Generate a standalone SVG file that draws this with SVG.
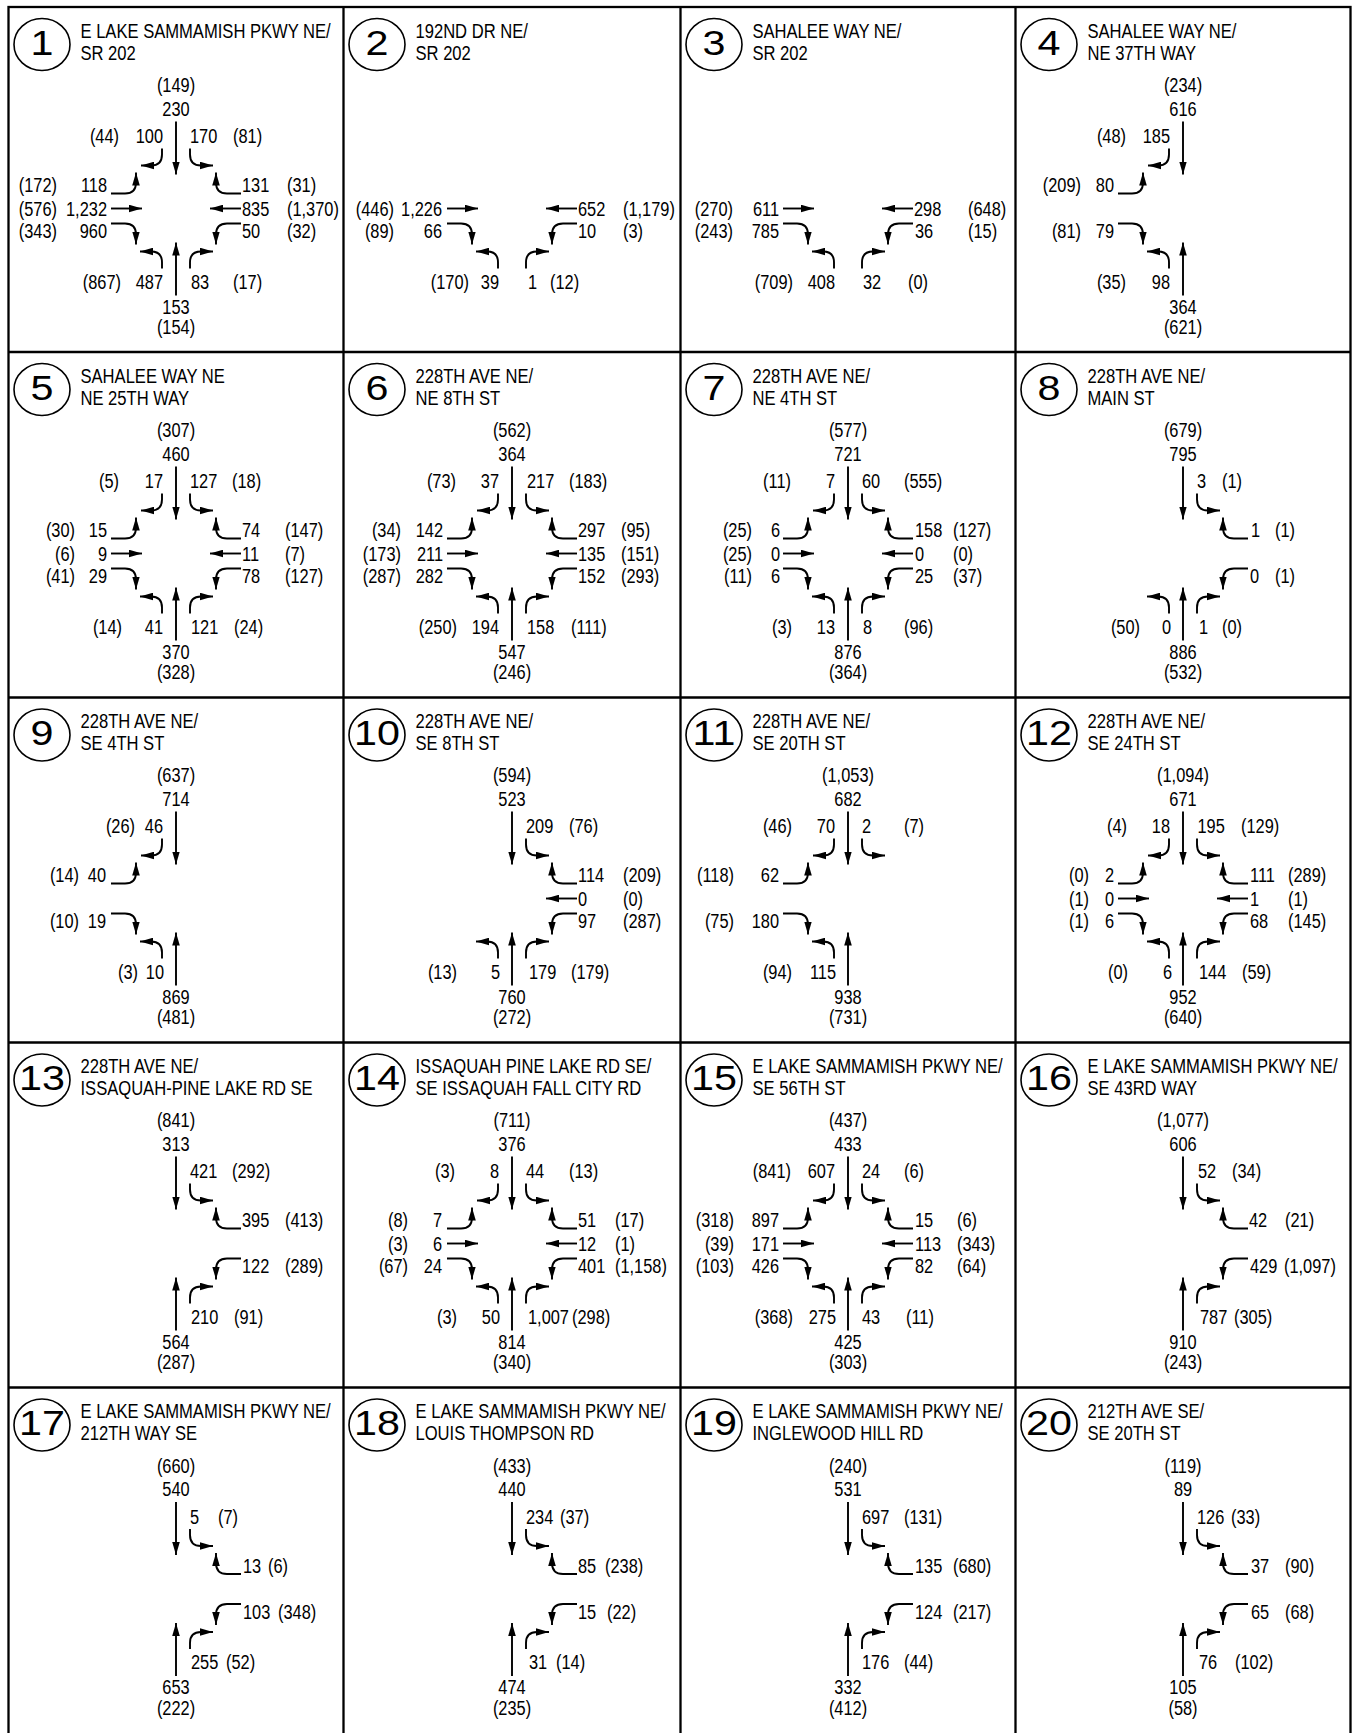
<svg xmlns="http://www.w3.org/2000/svg" width="1353" height="1733" viewBox="0 0 1353 1733">
<style>
text{font-family:"Liberation Sans",Arial,Helvetica,sans-serif;font-size:21px;fill:#000;transform-box:fill-box;transform:scaleX(.78);transform-origin:left center}
.e{text-anchor:end;transform-origin:right center}
.m{text-anchor:middle;transform-origin:center}
.ti{transform:scaleX(.79)}
.cn{font-size:35px;text-anchor:middle;transform-origin:center;transform:scaleX(1.18)}
.grid{fill:none;stroke:#000;stroke-width:2.3}
.c{fill:none;stroke:#000;stroke-width:1.6}
#connectors{fill:none;stroke:#000;stroke-width:1.9;marker-end:url(#ah)}
</style>
<defs>
<marker id="ah" viewBox="0 0 13 8" refX="13" refY="4" markerWidth="13" markerHeight="8" markerUnits="userSpaceOnUse" orient="auto"><path d="M0,0.2L13,4L0,7.8z" fill="#000" stroke="none"/></marker>
<path id="sT" d="M0,-87V-34"/>
<path id="nT" d="M0,87V34"/>
<path id="eT" d="M-65,0H-34"/>
<path id="wT" d="M65,0H34"/>
<path id="sL" d="M-14,-60V-54Q-14,-43 -25,-43H-35"/>
<path id="sR" d="M14,-60V-54Q14,-43 25,-43H37"/>
<path id="nL" d="M-14,60V54Q-14,43 -25,43H-36"/>
<path id="nR" d="M14,60V54Q14,43 25,43H37"/>
<path id="eL" d="M-65,-15H-51Q-40,-15 -40,-26V-36"/>
<path id="eR" d="M-65,15H-51Q-40,15 -40,26V36"/>
<path id="wR" d="M65,-15H51Q40,-15 40,-26V-36"/>
<path id="wL" d="M65,15H51Q40,15 40,26V36"/>
</defs>
<rect width="1353" height="1733" fill="#fff"/>
<g id="grid">
<rect class="grid" x="8.5" y="7" width="1342" height="1740"/>
<path class="grid" d="M343.5,7V1740M680.5,7V1740M1015.5,7V1740M8.5,352H1350.5M8.5,697.5H1350.5M8.5,1042.5H1350.5M8.5,1387.5H1350.5"/>
</g>
<g id="connectors">
<g id="a1" transform="translate(176,208.5)"><use href="#sT"/><use href="#sL"/><use href="#sR"/><use href="#eL"/><use href="#eT"/><use href="#eR"/><use href="#wR"/><use href="#wT"/><use href="#wL"/><use href="#nL"/><use href="#nT"/><use href="#nR"/></g>
<g id="a2" transform="translate(512,208.5)"><use href="#eT"/><use href="#eR"/><use href="#wT"/><use href="#wL"/><use href="#nL"/><use href="#nR"/></g>
<g id="a3" transform="translate(848,208.5)"><use href="#eT"/><use href="#eR"/><use href="#wT"/><use href="#wL"/><use href="#nL"/><use href="#nR"/></g>
<g id="a4" transform="translate(1183,208.5)"><use href="#sT"/><use href="#sL"/><use href="#eL"/><use href="#eR"/><use href="#nL"/><use href="#nT"/></g>
<g id="a5" transform="translate(176,553.5)"><use href="#sT"/><use href="#sL"/><use href="#sR"/><use href="#eL"/><use href="#eT"/><use href="#eR"/><use href="#wR"/><use href="#wT"/><use href="#wL"/><use href="#nL"/><use href="#nT"/><use href="#nR"/></g>
<g id="a6" transform="translate(512,553.5)"><use href="#sT"/><use href="#sL"/><use href="#sR"/><use href="#eL"/><use href="#eT"/><use href="#eR"/><use href="#wR"/><use href="#wT"/><use href="#wL"/><use href="#nL"/><use href="#nT"/><use href="#nR"/></g>
<g id="a7" transform="translate(848,553.5)"><use href="#sT"/><use href="#sL"/><use href="#sR"/><use href="#eL"/><use href="#eT"/><use href="#eR"/><use href="#wR"/><use href="#wT"/><use href="#wL"/><use href="#nL"/><use href="#nT"/><use href="#nR"/></g>
<g id="a8" transform="translate(1183,553.5)"><use href="#sT"/><use href="#sR"/><use href="#wR"/><use href="#wL"/><use href="#nL"/><use href="#nT"/><use href="#nR"/></g>
<g id="a9" transform="translate(176,898.5)"><use href="#sT"/><use href="#sL"/><use href="#eL"/><use href="#eR"/><use href="#nL"/><use href="#nT"/></g>
<g id="a10" transform="translate(512,898.5)"><use href="#sT"/><use href="#sR"/><use href="#wR"/><use href="#wT"/><use href="#wL"/><use href="#nL"/><use href="#nT"/><use href="#nR"/></g>
<g id="a11" transform="translate(848,898.5)"><use href="#sT"/><use href="#sL"/><use href="#sR"/><use href="#eL"/><use href="#eR"/><use href="#nL"/><use href="#nT"/></g>
<g id="a12" transform="translate(1183,898.5)"><use href="#sT"/><use href="#sL"/><use href="#sR"/><use href="#eL"/><use href="#eT"/><use href="#eR"/><use href="#wR"/><use href="#wT"/><use href="#wL"/><use href="#nL"/><use href="#nT"/><use href="#nR"/></g>
<g id="a13" transform="translate(176,1243.5)"><use href="#sT"/><use href="#sR"/><use href="#wR"/><use href="#wL"/><use href="#nT"/><use href="#nR"/></g>
<g id="a14" transform="translate(512,1243.5)"><use href="#sT"/><use href="#sL"/><use href="#sR"/><use href="#eL"/><use href="#eT"/><use href="#eR"/><use href="#wR"/><use href="#wT"/><use href="#wL"/><use href="#nL"/><use href="#nT"/><use href="#nR"/></g>
<g id="a15" transform="translate(848,1243.5)"><use href="#sT"/><use href="#sL"/><use href="#sR"/><use href="#eL"/><use href="#eT"/><use href="#eR"/><use href="#wR"/><use href="#wT"/><use href="#wL"/><use href="#nL"/><use href="#nT"/><use href="#nR"/></g>
<g id="a16" transform="translate(1183,1243.5)"><use href="#sT"/><use href="#sR"/><use href="#wR"/><use href="#wL"/><use href="#nT"/><use href="#nR"/></g>
<g id="a17" transform="translate(176,1589)"><use href="#sT"/><use href="#sR"/><use href="#wR"/><use href="#wL"/><use href="#nT"/><use href="#nR"/></g>
<g id="a18" transform="translate(512,1589)"><use href="#sT"/><use href="#sR"/><use href="#wR"/><use href="#wL"/><use href="#nT"/><use href="#nR"/></g>
<g id="a19" transform="translate(848,1589)"><use href="#sT"/><use href="#sR"/><use href="#wR"/><use href="#wL"/><use href="#nT"/><use href="#nR"/></g>
<g id="a20" transform="translate(1183,1589)"><use href="#sT"/><use href="#sR"/><use href="#wR"/><use href="#wL"/><use href="#nT"/><use href="#nR"/></g>
</g>

<g id="int1">
<ellipse class="c" cx="42" cy="44.5" rx="28" ry="26"/><text class="cn" x="42" y="55">1</text>
<text class="ti" x="80.5" y="38">E LAKE SAMMAMISH PKWY NE/</text><text class="ti" x="80.5" y="60">SR 202</text>
<g transform="translate(176,208.5)">
<text class="m" y="-116.5">(149)</text><text class="m" y="-93">230</text>
<text class="e" x="-57" y="-65.5">(44)</text><text class="e" x="-13" y="-65.5">100</text><text x="14" y="-65.5">170</text><text x="57" y="-65.5">(81)</text>
<text class="e" x="-119" y="-16.5">(172)</text><text class="e" x="-69" y="-16.5">118</text>
<text class="e" x="-119" y="7.5">(576)</text><text class="e" x="-69" y="7.5">1,232</text>
<text class="e" x="-119" y="30">(343)</text><text class="e" x="-69" y="30">960</text>
<text x="66" y="-16.5">131</text><text x="111" y="-16.5">(31)</text>
<text x="66" y="7.5">835</text><text x="111" y="7.5">(1,370)</text>
<text x="66" y="30">50</text><text x="111" y="30">(32)</text>
<text class="e" x="-55" y="80.5">(867)</text><text class="e" x="-13" y="80.5">487</text><text x="15" y="80.5">83</text><text x="57" y="80.5">(17)</text>
<text class="m" y="105.5">153</text><text class="m" y="126">(154)</text>
</g></g>

<g id="int2">
<ellipse class="c" cx="377" cy="44.5" rx="28" ry="26"/><text class="cn" x="377" y="55">2</text>
<text class="ti" x="415.5" y="38">192ND DR NE/</text><text class="ti" x="415.5" y="60">SR 202</text>
<g transform="translate(512,208.5)">
<text class="e" x="-118" y="7.5">(446)</text><text class="e" x="-70" y="7.5">1,226</text>
<text class="e" x="-118" y="30">(89)</text><text class="e" x="-70" y="30">66</text>
<text x="66" y="7.5">652</text><text x="111" y="7.5">(1,179)</text>
<text x="66" y="30">10</text><text x="111" y="30">(3)</text>
<text class="e" x="-43" y="80.5">(170)</text><text class="e" x="-13" y="80.5">39</text><text x="16" y="80.5">1</text><text x="38" y="80.5">(12)</text>
</g></g>

<g id="int3">
<ellipse class="c" cx="714" cy="44.5" rx="28" ry="26"/><text class="cn" x="714" y="55">3</text>
<text class="ti" x="752.5" y="38">SAHALEE WAY NE/</text><text class="ti" x="752.5" y="60">SR 202</text>
<g transform="translate(848,208.5)">
<text class="e" x="-115" y="7.5">(270)</text><text class="e" x="-69" y="7.5">611</text>
<text class="e" x="-115" y="30">(243)</text><text class="e" x="-69" y="30">785</text>
<text x="66" y="7.5">298</text><text x="120" y="7.5">(648)</text>
<text x="67" y="30">36</text><text x="120" y="30">(15)</text>
<text class="e" x="-55" y="80.5">(709)</text><text class="e" x="-13" y="80.5">408</text><text x="15" y="80.5">32</text><text x="60" y="80.5">(0)</text>
</g></g>

<g id="int4">
<ellipse class="c" cx="1049" cy="44.5" rx="28" ry="26"/><text class="cn" x="1049" y="55">4</text>
<text class="ti" x="1087.5" y="38">SAHALEE WAY NE/</text><text class="ti" x="1087.5" y="60">NE 37TH WAY</text>
<g transform="translate(1183,208.5)">
<text class="m" y="-116.5">(234)</text><text class="m" y="-93">616</text>
<text class="e" x="-57" y="-65.5">(48)</text><text class="e" x="-13" y="-65.5">185</text>
<text class="e" x="-102" y="-16.5">(209)</text><text class="e" x="-69" y="-16.5">80</text>
<text class="e" x="-102" y="30">(81)</text><text class="e" x="-69" y="30">79</text>
<text class="e" x="-57" y="80.5">(35)</text><text class="e" x="-13" y="80.5">98</text>
<text class="m" y="105.5">364</text><text class="m" y="126">(621)</text>
</g></g>

<g id="int5">
<ellipse class="c" cx="42" cy="389.5" rx="28" ry="26"/><text class="cn" x="42" y="400">5</text>
<text class="ti" x="80.5" y="383">SAHALEE WAY NE</text><text class="ti" x="80.5" y="405">NE 25TH WAY</text>
<g transform="translate(176,553.5)">
<text class="m" y="-116.5">(307)</text><text class="m" y="-93">460</text>
<text class="e" x="-57" y="-65.5">(5)</text><text class="e" x="-13" y="-65.5">17</text><text x="14" y="-65.5">127</text><text x="56" y="-65.5">(18)</text>
<text class="e" x="-101" y="-16.5">(30)</text><text class="e" x="-69" y="-16.5">15</text>
<text class="e" x="-101" y="7.5">(6)</text><text class="e" x="-69" y="7.5">9</text>
<text class="e" x="-101" y="30">(41)</text><text class="e" x="-69" y="30">29</text>
<text x="66" y="-16.5">74</text><text x="109" y="-16.5">(147)</text>
<text x="66" y="7.5">11</text><text x="109" y="7.5">(7)</text>
<text x="66" y="30">78</text><text x="109" y="30">(127)</text>
<text class="e" x="-54" y="80.5">(14)</text><text class="e" x="-13" y="80.5">41</text><text x="15" y="80.5">121</text><text x="58" y="80.5">(24)</text>
<text class="m" y="105.5">370</text><text class="m" y="126">(328)</text>
</g></g>

<g id="int6">
<ellipse class="c" cx="377" cy="389.5" rx="28" ry="26"/><text class="cn" x="377" y="400">6</text>
<text class="ti" x="415.5" y="383">228TH AVE NE/</text><text class="ti" x="415.5" y="405">NE 8TH ST</text>
<g transform="translate(512,553.5)">
<text class="m" y="-116.5">(562)</text><text class="m" y="-93">364</text>
<text class="e" x="-56" y="-65.5">(73)</text><text class="e" x="-13" y="-65.5">37</text><text x="15" y="-65.5">217</text><text x="57" y="-65.5">(183)</text>
<text class="e" x="-111" y="-16.5">(34)</text><text class="e" x="-69" y="-16.5">142</text>
<text class="e" x="-111" y="7.5">(173)</text><text class="e" x="-69" y="7.5">211</text>
<text class="e" x="-111" y="30">(287)</text><text class="e" x="-69" y="30">282</text>
<text x="66" y="-16.5">297</text><text x="109" y="-16.5">(95)</text>
<text x="66" y="7.5">135</text><text x="109" y="7.5">(151)</text>
<text x="66" y="30">152</text><text x="109" y="30">(293)</text>
<text class="e" x="-55" y="80.5">(250)</text><text class="e" x="-13" y="80.5">194</text><text x="15" y="80.5">158</text><text x="59" y="80.5">(111)</text>
<text class="m" y="105.5">547</text><text class="m" y="126">(246)</text>
</g></g>

<g id="int7">
<ellipse class="c" cx="714" cy="389.5" rx="28" ry="26"/><text class="cn" x="714" y="400">7</text>
<text class="ti" x="752.5" y="383">228TH AVE NE/</text><text class="ti" x="752.5" y="405">NE 4TH ST</text>
<g transform="translate(848,553.5)">
<text class="m" y="-116.5">(577)</text><text class="m" y="-93">721</text>
<text class="e" x="-57" y="-65.5">(11)</text><text class="e" x="-13" y="-65.5">7</text><text x="14" y="-65.5">60</text><text x="56" y="-65.5">(555)</text>
<text class="e" x="-96" y="-16.5">(25)</text><text class="e" x="-68" y="-16.5">6</text>
<text class="e" x="-96" y="7.5">(25)</text><text class="e" x="-68" y="7.5">0</text>
<text class="e" x="-96" y="30">(11)</text><text class="e" x="-68" y="30">6</text>
<text x="67" y="-16.5">158</text><text x="105" y="-16.5">(127)</text>
<text x="67" y="7.5">0</text><text x="105" y="7.5">(0)</text>
<text x="67" y="30">25</text><text x="105" y="30">(37)</text>
<text class="e" x="-56" y="80.5">(3)</text><text class="e" x="-13" y="80.5">13</text><text x="15" y="80.5">8</text><text x="56" y="80.5">(96)</text>
<text class="m" y="105.5">876</text><text class="m" y="126">(364)</text>
</g></g>

<g id="int8">
<ellipse class="c" cx="1049" cy="389.5" rx="28" ry="26"/><text class="cn" x="1049" y="400">8</text>
<text class="ti" x="1087.5" y="383">228TH AVE NE/</text><text class="ti" x="1087.5" y="405">MAIN ST</text>
<g transform="translate(1183,553.5)">
<text class="m" y="-116.5">(679)</text><text class="m" y="-93">795</text>
<text x="14" y="-65.5">3</text><text x="39" y="-65.5">(1)</text>
<text x="68" y="-16.5">1</text><text x="92" y="-16.5">(1)</text>
<text x="67" y="30">0</text><text x="92" y="30">(1)</text>
<text class="e" x="-43" y="80.5">(50)</text><text class="e" x="-12" y="80.5">0</text><text x="16" y="80.5">1</text><text x="39" y="80.5">(0)</text>
<text class="m" y="105.5">886</text><text class="m" y="126">(532)</text>
</g></g>

<g id="int9">
<ellipse class="c" cx="42" cy="735" rx="28" ry="26"/><text class="cn" x="42" y="745.5">9</text>
<text class="ti" x="80.5" y="728.5">228TH AVE NE/</text><text class="ti" x="80.5" y="750.5">SE 4TH ST</text>
<g transform="translate(176,898.5)">
<text class="m" y="-116.5">(637)</text><text class="m" y="-93">714</text>
<text class="e" x="-41" y="-65.5">(26)</text><text class="e" x="-13" y="-65.5">46</text>
<text class="e" x="-97" y="-16.5">(14)</text><text class="e" x="-70" y="-16.5">40</text>
<text class="e" x="-97" y="30">(10)</text><text class="e" x="-70" y="30">19</text>
<text class="e" x="-38" y="80.5">(3)</text><text class="e" x="-12" y="80.5">10</text>
<text class="m" y="105.5">869</text><text class="m" y="126">(481)</text>
</g></g>

<g id="int10">
<ellipse class="c" cx="377" cy="735" rx="28" ry="26"/><text class="cn" x="377" y="745.5">10</text>
<text class="ti" x="415.5" y="728.5">228TH AVE NE/</text><text class="ti" x="415.5" y="750.5">SE 8TH ST</text>
<g transform="translate(512,898.5)">
<text class="m" y="-116.5">(594)</text><text class="m" y="-93">523</text>
<text x="14" y="-65.5">209</text><text x="57" y="-65.5">(76)</text>
<text x="66" y="-16.5">114</text><text x="111" y="-16.5">(209)</text>
<text x="66" y="7.5">0</text><text x="111" y="7.5">(0)</text>
<text x="66" y="30">97</text><text x="111" y="30">(287)</text>
<text class="e" x="-55" y="80.5">(13)</text><text class="e" x="-12" y="80.5">5</text><text x="17" y="80.5">179</text><text x="59" y="80.5">(179)</text>
<text class="m" y="105.5">760</text><text class="m" y="126">(272)</text>
</g></g>

<g id="int11">
<ellipse class="c" cx="714" cy="735" rx="28" ry="26"/><text class="cn" x="714" y="745.5">11</text>
<text class="ti" x="752.5" y="728.5">228TH AVE NE/</text><text class="ti" x="752.5" y="750.5">SE 20TH ST</text>
<g transform="translate(848,898.5)">
<text class="m" y="-116.5">(1,053)</text><text class="m" y="-93">682</text>
<text class="e" x="-56" y="-65.5">(46)</text><text class="e" x="-13" y="-65.5">70</text><text x="14" y="-65.5">2</text><text x="56" y="-65.5">(7)</text>
<text class="e" x="-114" y="-16.5">(118)</text><text class="e" x="-69" y="-16.5">62</text>
<text class="e" x="-114" y="30">(75)</text><text class="e" x="-69" y="30">180</text>
<text class="e" x="-56" y="80.5">(94)</text><text class="e" x="-12" y="80.5">115</text>
<text class="m" y="105.5">938</text><text class="m" y="126">(731)</text>
</g></g>

<g id="int12">
<ellipse class="c" cx="1049" cy="735" rx="28" ry="26"/><text class="cn" x="1049" y="745.5">12</text>
<text class="ti" x="1087.5" y="728.5">228TH AVE NE/</text><text class="ti" x="1087.5" y="750.5">SE 24TH ST</text>
<g transform="translate(1183,898.5)">
<text class="m" y="-116.5">(1,094)</text><text class="m" y="-93">671</text>
<text class="e" x="-56" y="-65.5">(4)</text><text class="e" x="-13" y="-65.5">18</text><text x="14.5" y="-65.5">195</text><text x="58" y="-65.5">(129)</text>
<text class="e" x="-94" y="-16.5">(0)</text><text class="e" x="-69" y="-16.5">2</text>
<text class="e" x="-94" y="7.5">(1)</text><text class="e" x="-69" y="7.5">0</text>
<text class="e" x="-94" y="30">(1)</text><text class="e" x="-69" y="30">6</text>
<text x="67" y="-16.5">111</text><text x="105" y="-16.5">(289)</text>
<text x="67" y="7.5">1</text><text x="105" y="7.5">(1)</text>
<text x="67" y="30">68</text><text x="105" y="30">(145)</text>
<text class="e" x="-55" y="80.5">(0)</text><text class="e" x="-11" y="80.5">6</text><text x="16" y="80.5">144</text><text x="59" y="80.5">(59)</text>
<text class="m" y="105.5">952</text><text class="m" y="126">(640)</text>
</g></g>

<g id="int13">
<ellipse class="c" cx="42" cy="1080" rx="28" ry="26"/><text class="cn" x="42" y="1090.5">13</text>
<text class="ti" x="80.5" y="1073.5">228TH AVE NE/</text><text class="ti" x="80.5" y="1095.5">ISSAQUAH-PINE LAKE RD SE</text>
<g transform="translate(176,1243.5)">
<text class="m" y="-116.5">(841)</text><text class="m" y="-93">313</text>
<text x="14" y="-65.5">421</text><text x="56" y="-65.5">(292)</text>
<text x="66" y="-16.5">395</text><text x="109" y="-16.5">(413)</text>
<text x="66" y="30">122</text><text x="109" y="30">(289)</text>
<text x="15" y="80.5">210</text><text x="58" y="80.5">(91)</text>
<text class="m" y="105.5">564</text><text class="m" y="126">(287)</text>
</g></g>

<g id="int14">
<ellipse class="c" cx="377" cy="1080" rx="28" ry="26"/><text class="cn" x="377" y="1090.5">14</text>
<text class="ti" x="415.5" y="1073.5">ISSAQUAH PINE LAKE RD SE/</text><text class="ti" x="415.5" y="1095.5">SE ISSAQUAH FALL CITY RD</text>
<g transform="translate(512,1243.5)">
<text class="m" y="-116.5">(711)</text><text class="m" y="-93">376</text>
<text class="e" x="-57" y="-65.5">(3)</text><text class="e" x="-13" y="-65.5">8</text><text x="14" y="-65.5">44</text><text x="57" y="-65.5">(13)</text>
<text class="e" x="-104" y="-16.5">(8)</text><text class="e" x="-70" y="-16.5">7</text>
<text class="e" x="-104" y="7.5">(3)</text><text class="e" x="-70" y="7.5">6</text>
<text class="e" x="-104" y="30">(67)</text><text class="e" x="-70" y="30">24</text>
<text x="66" y="-16.5">51</text><text x="103" y="-16.5">(17)</text>
<text x="66" y="7.5">12</text><text x="103" y="7.5">(1)</text>
<text x="66" y="30">401</text><text x="103" y="30">(1,158)</text>
<text class="e" x="-55" y="80.5">(3)</text><text class="e" x="-12" y="80.5">50</text><text x="16" y="80.5">1,007</text><text x="60" y="80.5">(298)</text>
<text class="m" y="105.5">814</text><text class="m" y="126">(340)</text>
</g></g>

<g id="int15">
<ellipse class="c" cx="714" cy="1080" rx="28" ry="26"/><text class="cn" x="714" y="1090.5">15</text>
<text class="ti" x="752.5" y="1073.5">E LAKE SAMMAMISH PKWY NE/</text><text class="ti" x="752.5" y="1095.5">SE 56TH ST</text>
<g transform="translate(848,1243.5)">
<text class="m" y="-116.5">(437)</text><text class="m" y="-93">433</text>
<text class="e" x="-57" y="-65.5">(841)</text><text class="e" x="-13" y="-65.5">607</text><text x="14" y="-65.5">24</text><text x="56" y="-65.5">(6)</text>
<text class="e" x="-114" y="-16.5">(318)</text><text class="e" x="-69" y="-16.5">897</text>
<text class="e" x="-114" y="7.5">(39)</text><text class="e" x="-69" y="7.5">171</text>
<text class="e" x="-114" y="30">(103)</text><text class="e" x="-69" y="30">426</text>
<text x="67" y="-16.5">15</text><text x="109" y="-16.5">(6)</text>
<text x="67" y="7.5">113</text><text x="109" y="7.5">(343)</text>
<text x="67" y="30">82</text><text x="109" y="30">(64)</text>
<text class="e" x="-55" y="80.5">(368)</text><text class="e" x="-12" y="80.5">275</text><text x="14" y="80.5">43</text><text x="58" y="80.5">(11)</text>
<text class="m" y="105.5">425</text><text class="m" y="126">(303)</text>
</g></g>

<g id="int16">
<ellipse class="c" cx="1049" cy="1080" rx="28" ry="26"/><text class="cn" x="1049" y="1090.5">16</text>
<text class="ti" x="1087.5" y="1073.5">E LAKE SAMMAMISH PKWY NE/</text><text class="ti" x="1087.5" y="1095.5">SE 43RD WAY</text>
<g transform="translate(1183,1243.5)">
<text class="m" y="-116.5">(1,077)</text><text class="m" y="-93">606</text>
<text x="15" y="-65.5">52</text><text x="49" y="-65.5">(34)</text>
<text x="66" y="-16.5">42</text><text x="102" y="-16.5">(21)</text>
<text x="67" y="30">429</text><text x="101" y="30">(1,097)</text>
<text x="17" y="80.5">787</text><text x="51" y="80.5">(305)</text>
<text class="m" y="105.5">910</text><text class="m" y="126">(243)</text>
</g></g>

<g id="int17">
<ellipse class="c" cx="42" cy="1425" rx="28" ry="26"/><text class="cn" x="42" y="1435.5">17</text>
<text class="ti" x="80.5" y="1418.5">E LAKE SAMMAMISH PKWY NE/</text><text class="ti" x="80.5" y="1440.5">212TH WAY SE</text>
<g transform="translate(176,1589)">
<text class="m" y="-116.5">(660)</text><text class="m" y="-93">540</text>
<text x="14" y="-65.5">5</text><text x="42" y="-65.5">(7)</text>
<text x="67" y="-16.5">13</text><text x="92" y="-16.5">(6)</text>
<text x="67" y="30">103</text><text x="102" y="30">(348)</text>
<text x="15" y="80.5">255</text><text x="50" y="80.5">(52)</text>
<text class="m" y="105.5">653</text><text class="m" y="126">(222)</text>
</g></g>

<g id="int18">
<ellipse class="c" cx="377" cy="1425" rx="28" ry="26"/><text class="cn" x="377" y="1435.5">18</text>
<text class="ti" x="415.5" y="1418.5">E LAKE SAMMAMISH PKWY NE/</text><text class="ti" x="415.5" y="1440.5">LOUIS THOMPSON RD</text>
<g transform="translate(512,1589)">
<text class="m" y="-116.5">(433)</text><text class="m" y="-93">440</text>
<text x="14" y="-65.5">234</text><text x="48" y="-65.5">(37)</text>
<text x="66" y="-16.5">85</text><text x="93" y="-16.5">(238)</text>
<text x="66" y="30">15</text><text x="95" y="30">(22)</text>
<text x="17" y="80.5">31</text><text x="44" y="80.5">(14)</text>
<text class="m" y="105.5">474</text><text class="m" y="126">(235)</text>
</g></g>

<g id="int19">
<ellipse class="c" cx="714" cy="1425" rx="28" ry="26"/><text class="cn" x="714" y="1435.5">19</text>
<text class="ti" x="752.5" y="1418.5">E LAKE SAMMAMISH PKWY NE/</text><text class="ti" x="752.5" y="1440.5">INGLEWOOD HILL RD</text>
<g transform="translate(848,1589)">
<text class="m" y="-116.5">(240)</text><text class="m" y="-93">531</text>
<text x="14" y="-65.5">697</text><text x="56" y="-65.5">(131)</text>
<text x="67" y="-16.5">135</text><text x="105" y="-16.5">(680)</text>
<text x="67" y="30">124</text><text x="105" y="30">(217)</text>
<text x="14" y="80.5">176</text><text x="56" y="80.5">(44)</text>
<text class="m" y="105.5">332</text><text class="m" y="126">(412)</text>
</g></g>

<g id="int20">
<ellipse class="c" cx="1049" cy="1425" rx="28" ry="26"/><text class="cn" x="1049" y="1435.5">20</text>
<text class="ti" x="1087.5" y="1418.5">212TH AVE SE/</text><text class="ti" x="1087.5" y="1440.5">SE 20TH ST</text>
<g transform="translate(1183,1589)">
<text class="m" y="-116.5">(119)</text><text class="m" y="-93">89</text>
<text x="14" y="-65.5">126</text><text x="48" y="-65.5">(33)</text>
<text x="68" y="-16.5">37</text><text x="102" y="-16.5">(90)</text>
<text x="68" y="30">65</text><text x="102" y="30">(68)</text>
<text x="16" y="80.5">76</text><text x="52" y="80.5">(102)</text>
<text class="m" y="105.5">105</text><text class="m" y="126">(58)</text>
</g></g>
</svg>
